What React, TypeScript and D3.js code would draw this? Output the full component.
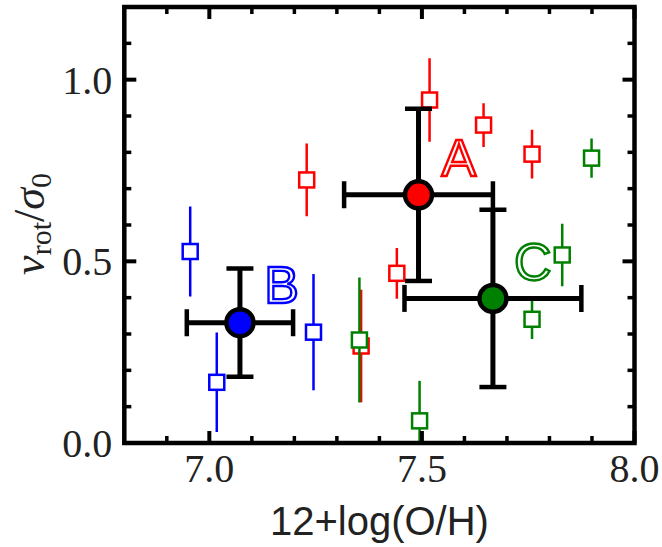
import React from "react";
import * as d3 from "d3";

// ---- data ----
const redX = [7.229, 7.518, 7.645, 7.759, 7.357, 7.441];
const redY = [0.724, 0.944, 0.875, 0.795, 0.267, 0.467];
const redErr = [0.1, 0.115, 0.06, 0.067, 0.155, 0.07];

const greenX = [7.899, 7.353, 7.4945, 7.759, 7.83];
const greenY = [0.784, 0.2835, 0.061, 0.3405, 0.5175];
const greenErr = [0.054, 0.172, 0.11, 0.054, 0.086];

const blueX = [6.955, 7.0175, 7.245];
const blueY = [0.527, 0.167, 0.305];
const blueErr = [0.124, 0.137, 0.16];

const groupNames = ["A", "B", "C"];
const groupX = [7.492, 7.072, 7.667];
const groupY = [0.683, 0.331, 0.398];
const groupXErr = [0.175, 0.125, 0.208];
const groupYErr = [0.237, 0.149, 0.244];
const groupLabelX = [7.587, 7.17, 7.761];
const groupLabelY = [0.729, 0.38, 0.444];

const xMajor = [7.0, 7.5, 8.0];
const yMajor = [0.0, 0.5, 1.0];
const xMinor = [6.9, 7.1, 7.2, 7.3, 7.4, 7.6, 7.7, 7.8, 7.9];
const yMinor = [0.1, 0.2, 0.3, 0.4, 0.6, 0.7, 0.8, 0.9, 1.1];

const RED = "#ff0000";
const GREEN = "#008000";
const BLUE = "#0000ff";
const groupColors = [RED, BLUE, GREEN];

const W = 662;
const H = 547;
const L = 124.3;
const R = 634.5;
const T = 7;
const B = 443;

export default function App() {
  const x = d3.scaleLinear().domain([6.8, 8.0]).range([L, R]);
  const y = d3.scaleLinear().domain([0, 1.2]).range([B, T]);

  const series = [
    { xs: redX, ys: redY, es: redErr, c: RED },
    { xs: greenX, ys: greenY, es: greenErr, c: GREEN },
    { xs: blueX, ys: blueY, es: blueErr, c: BLUE },
  ];
  const sq = 15;
  const cap = 13.5;
  const majLen = 12;
  const minLen = 7;

  return (
    <svg
      width={W}
      height={H}
      style={{ position: "absolute", left: 0, top: 0, background: "#fff" }}
    >
      <defs>
        <clipPath id="plot">
          <rect x={L} y={T} width={R - L} height={B - T} />
        </clipPath>
      </defs>
      <rect x={0} y={0} width={W} height={H} fill="#fff" />
      <g clipPath="url(#plot)">
        {series.map((s, si) =>
          s.xs.map((xv, i) => (
            <g key={`s${si}-${i}`}>
              <line
                x1={x(xv)}
                x2={x(xv)}
                y1={y(s.ys[i] - s.es[i])}
                y2={y(s.ys[i] + s.es[i])}
                stroke={s.c}
                strokeWidth={2.5}
              />
              <rect
                x={x(xv) - sq / 2}
                y={y(s.ys[i]) - sq / 2}
                width={sq}
                height={sq}
                fill="#fff"
                stroke={s.c}
                strokeWidth={2.5}
              />
            </g>
          ))
        )}
        {groupX.map((gx, i) => {
          const cx = x(gx);
          const cy = y(groupY[i]);
          const x0 = x(gx - groupXErr[i]);
          const x1 = x(gx + groupXErr[i]);
          const y0 = y(groupY[i] - groupYErr[i]);
          const y1 = y(groupY[i] + groupYErr[i]);
          return (
            <g key={`g${i}`} stroke="#000" strokeWidth={5}>
              <line x1={x0} x2={x1} y1={cy} y2={cy} />
              <line x1={cx} x2={cx} y1={y0} y2={y1} />
              <line x1={x0} x2={x0} y1={cy - cap} y2={cy + cap} strokeWidth={4.5} />
              <line x1={x1} x2={x1} y1={cy - cap} y2={cy + cap} strokeWidth={4.5} />
              <line x1={cx - cap} x2={cx + cap} y1={y0} y2={y0} strokeWidth={4.5} />
              <line x1={cx - cap} x2={cx + cap} y1={y1} y2={y1} strokeWidth={4.5} />
              <circle cx={cx} cy={cy} r={13.5} fill={groupColors[i]} strokeWidth={4.5} />
            </g>
          );
        })}
        {groupNames.map((n, i) => (
          <text
            key={`t${i}`}
            x={x(groupLabelX[i])}
            y={y(groupLabelY[i]) - 2}
            textAnchor="middle"
            fontFamily="Liberation Sans, sans-serif"
            fontSize={52}
            fill="#fff"
            stroke={groupColors[i]}
            strokeWidth={2.4}
          >
            {n}
          </text>
        ))}
      </g>

      {/* ticks */}
      <g stroke="#000">
        {xMajor.map((v) => (
          <g key={`xM${v}`} strokeWidth={4}>
            <line x1={x(v)} x2={x(v)} y1={B} y2={B - majLen} />
            <line x1={x(v)} x2={x(v)} y1={T} y2={T + majLen} />
          </g>
        ))}
        {xMinor.map((v) => (
          <g key={`xm${v}`} strokeWidth={3.5}>
            <line x1={x(v)} x2={x(v)} y1={B} y2={B - minLen} />
            <line x1={x(v)} x2={x(v)} y1={T} y2={T + minLen} />
          </g>
        ))}
        {yMajor.map((v) => (
          <g key={`yM${v}`} strokeWidth={4}>
            <line x1={L} x2={L + majLen} y1={y(v)} y2={y(v)} />
            <line x1={R} x2={R - majLen} y1={y(v)} y2={y(v)} />
          </g>
        ))}
        {yMinor.map((v) => (
          <g key={`ym${v}`} strokeWidth={3.5}>
            <line x1={L} x2={L + minLen} y1={y(v)} y2={y(v)} />
            <line x1={R} x2={R - minLen} y1={y(v)} y2={y(v)} />
          </g>
        ))}
      </g>
      <rect
        x={L}
        y={T}
        width={R - L}
        height={B - T}
        fill="none"
        stroke="#000"
        strokeWidth={4.5}
      />

      {/* tick labels */}
      <g fontFamily="Liberation Serif, serif" fontSize={40} fill="#222">
        {xMajor.map((v) => (
          <text key={`xl${v}`} x={x(v)} y={B + 39} textAnchor="middle">
            {v.toFixed(1)}
          </text>
        ))}
        {yMajor.map((v) => (
          <text key={`yl${v}`} x={L - 12} y={y(v) + 14} textAnchor="end">
            {v.toFixed(1)}
          </text>
        ))}
      </g>

      {/* axis labels */}
      <text
        x={(L + R) / 2}
        y={535}
        textAnchor="middle"
        fontFamily="Liberation Sans, sans-serif"
        fontSize={40}
        fill="#222"
      >
        12+log(O/H)
      </text>
      <text
        transform={`translate(44,224) rotate(-90)`}
        textAnchor="middle"
        fontFamily="Liberation Serif, serif"
        fontSize={44}
        fill="#222"
      >
        <tspan fontStyle="italic">v</tspan>
        <tspan fontSize={30} dy={7}>rot</tspan>
        <tspan dy={-7}>/</tspan>
        <tspan fontStyle="italic">σ</tspan>
        <tspan fontSize={30} dy={7}>0</tspan>
      </text>
    </svg>
  );
}
